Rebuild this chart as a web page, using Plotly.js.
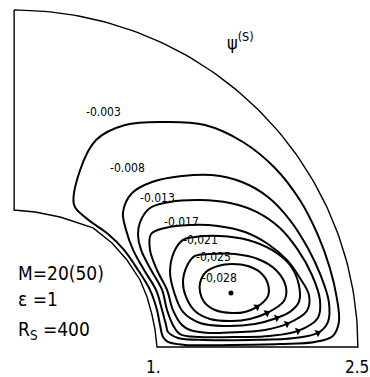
<!DOCTYPE html>
<html><head><meta charset="utf-8">
<script src="https://cdn.plot.ly/plotly-3.0.1.min.js"></script>
<style>html,body{margin:0;padding:0;background:#fff}#chart{width:370px;height:377px}</style>
</head><body><div id="chart"></div>
<script>
// contour levels (outer -> inner)
const LEVELS = ["-0.003","-0.008","-0.013","-0.017","-0,021","-0,025","-0,028"];

const A_X = [0.436,0.480,0.596,0.807,1.097,1.388,1.664,1.897,2.078,2.209,2.296,2.347,2.362,2.318,2.187,1.933,1.570,1.243,1.119,1.083,1.061,1.039,0.988,0.901,0.799,0.683,0.523];
const A_Y = [1.053,1.313,1.536,1.647,1.669,1.647,1.521,1.328,1.090,0.831,0.586,0.363,0.185,0.082,0.037,0.022,0.015,0.015,0.037,0.074,0.163,0.274,0.423,0.571,0.720,0.838,0.957];

const B_X = [0.792,0.858,1.003,1.221,1.439,1.657,1.846,2.006,2.136,2.231,2.289,2.282,2.209,2.042,1.715,1.388,1.192,1.119,1.105,1.076,1.032,0.945,0.865,0.814];
const B_Y = [1.001,1.142,1.224,1.268,1.276,1.224,1.113,0.942,0.734,0.527,0.334,0.185,0.104,0.067,0.052,0.052,0.067,0.111,0.163,0.274,0.423,0.571,0.720,0.868];

const C_X = [0.916,0.988,1.134,1.352,1.570,1.766,1.933,2.064,2.166,2.224,2.209,2.064,1.860,1.642,1.352,1.206,1.155,1.112,1.076,0.996,0.923,0.901];
const C_Y = [0.927,1.031,1.076,1.090,1.068,1.001,0.883,0.720,0.534,0.349,0.215,0.119,0.082,0.074,0.074,0.096,0.163,0.274,0.423,0.571,0.720,0.831];

const D_X = [0.996,1.097,1.279,1.482,1.679,1.846,1.984,2.078,2.144,2.129,1.984,1.824,1.642,1.424,1.279,1.221,1.155,1.112,1.039,0.988];
const D_Y = [0.838,0.883,0.905,0.898,0.853,0.764,0.645,0.512,0.386,0.267,0.171,0.126,0.111,0.104,0.126,0.163,0.274,0.423,0.571,0.720];

const E_X = [1.228,1.315,1.497,1.700,1.875,2.006,2.071,2.071,2.006,1.911,1.751,1.533,1.352,1.228,1.163,1.134,1.163];
const E_Y = [0.794,0.816,0.823,0.794,0.720,0.608,0.460,0.334,0.260,0.215,0.171,0.156,0.178,0.260,0.408,0.556,0.705];

const F_X = [1.315,1.424,1.606,1.773,1.904,1.977,1.962,1.839,1.715,1.584,1.424,1.315,1.250,1.228,1.257];
const F_Y = [0.675,0.690,0.690,0.653,0.571,0.445,0.341,0.252,0.208,0.193,0.208,0.267,0.371,0.482,0.601];

const G_X = [1.352,1.395,1.482,1.584,1.700,1.795,1.846,1.846,1.766,1.679,1.584,1.461,1.381,1.352];
const G_Y = [0.475,0.556,0.601,0.616,0.601,0.549,0.467,0.378,0.297,0.260,0.252,0.274,0.334,0.408];

const ARROW_AT = [null, 12, 11, 10, 9, 7, 8];

const LABEL_X = [0.647,0.828,1.046,1.214,1.359,1.453,1.497];
const LABEL_Y = [1.743,1.328,1.105,0.927,0.790,0.665,0.512];

const CENTER_X = [1.577], CENTER_Y = [0.401];

// domain boundary
const INNER_X = [0,0.153,0.334,0.574,0.712,0.821,0.916,0.967,1.003,1.025,1.039];
const INNER_Y = [1.016,1.001,0.964,0.883,0.771,0.645,0.497,0.371,0.237,0.126,0];
const R_OUT = 2.5;

const TICK_VALS = [1, 2.5];
const TICK_TEXT = ["1.", "2.5"];

const FONT = '"DejaVu Sans Condensed","Liberation Sans Narrow","DejaVu Sans",sans-serif';

const W = 370, H = 377;
const M = {l: 10, r: 8, t: 6, b: 26};
const XR = [-0.03, 2.53], YR = [-0.03, 2.53];
const SX = (W - M.l - M.r) / (XR[1] - XR[0]);
const SY = (H - M.t - M.b) / (YR[1] - YR[0]);

const traces = [];

// boundary
const bx = [0, 0].concat(INNER_X), by = [R_OUT, INNER_Y[0]].concat(INNER_Y);
bx.push(R_OUT); by.push(0);
for (let i = 0; i <= 90; i++) {
  const t = i * Math.PI / 180;
  bx.push(R_OUT * Math.cos(t)); by.push(R_OUT * Math.sin(t));
}
traces.push({x: bx, y: by, mode: 'lines', line: {color: '#000', width: 1.4}, hoverinfo: 'skip'});

const CONTOURS = [[A_X,A_Y],[B_X,B_Y],[C_X,C_Y],[D_X,D_Y],[E_X,E_Y],[F_X,F_Y],[G_X,G_Y]];
const ax = [], ay = [], aang = [];
CONTOURS.forEach(([cx, cy], i) => {
  traces.push({x: cx.concat([cx[0]]), y: cy.concat([cy[0]]), mode: 'lines',
    line: {color: '#000', width: 2, shape: 'spline', smoothing: 1}, hoverinfo: 'skip', name: LEVELS[i]});
  const k = ARROW_AT[i];
  if (k !== null) {
    const n = cx.length;
    const p = (k - 1 + n) % n, q = (k + 1) % n;
    const dx = (cx[p] - cx[q]) * SX, dy = -(cy[p] - cy[q]) * SY;
    ax.push(cx[k]); ay.push(cy[k]); aang.push(Math.atan2(dy, dx) * 180 / Math.PI);
  }
});
traces.push({x: ax, y: ay, mode: 'markers', hoverinfo: 'skip',
  marker: {symbol: 'triangle-right', size: 7, color: '#000', angle: aang}});
traces.push({x: CENTER_X, y: CENTER_Y, mode: 'markers', hoverinfo: 'skip',
  marker: {symbol: 'circle', size: 5, color: '#000'}});

const annotations = LEVELS.map((t, i) => ({x: LABEL_X[i], y: LABEL_Y[i], text: t, showarrow: false,
  font: {family: FONT, size: 12, color: '#000'}}));

annotations.push({x: 1.533, y: 2.27, xanchor: 'left', text: 'ψ<sup>(S)</sup>', showarrow: false,
  font: {family: FONT, size: 18, color: '#000'}});
annotations.push({x: 0.01, y: 0.549, xanchor: 'left', text: 'M=20(50)', showarrow: false,
  font: {family: FONT, size: 19, color: '#000'}});
annotations.push({x: 0.01, y: 0.356, xanchor: 'left', text: 'ε =1', showarrow: false,
  font: {family: FONT, size: 19, color: '#000'}});
annotations.push({x: 0.01, y: 0.125, xanchor: 'left', text: 'R<sub>S</sub> =400', showarrow: false,
  font: {family: FONT, size: 19, color: '#000'}});
// axis tick labels, placed below the plot area
TICK_VALS.forEach((v, i) => annotations.push({x: v, y: -0.046, xref: 'x', yref: 'paper', text: TICK_TEXT[i],
  showarrow: false, xanchor: 'center', yanchor: 'middle', xshift: i === 0 ? 2 : -1,
  font: {family: FONT, size: 17, color: '#000'}}));

const layout = {
  width: W, height: H, margin: M, showlegend: false,
  paper_bgcolor: '#fff', plot_bgcolor: '#fff',
  xaxis: {range: XR, showgrid: false, zeroline: false, showline: false, ticks: '',
    showticklabels: false, fixedrange: true},
  yaxis: {range: YR, visible: false, fixedrange: true},
  annotations: annotations
};

Plotly.newPlot('chart', traces, layout, {displayModeBar: false, staticPlot: true});
</script></body></html>
